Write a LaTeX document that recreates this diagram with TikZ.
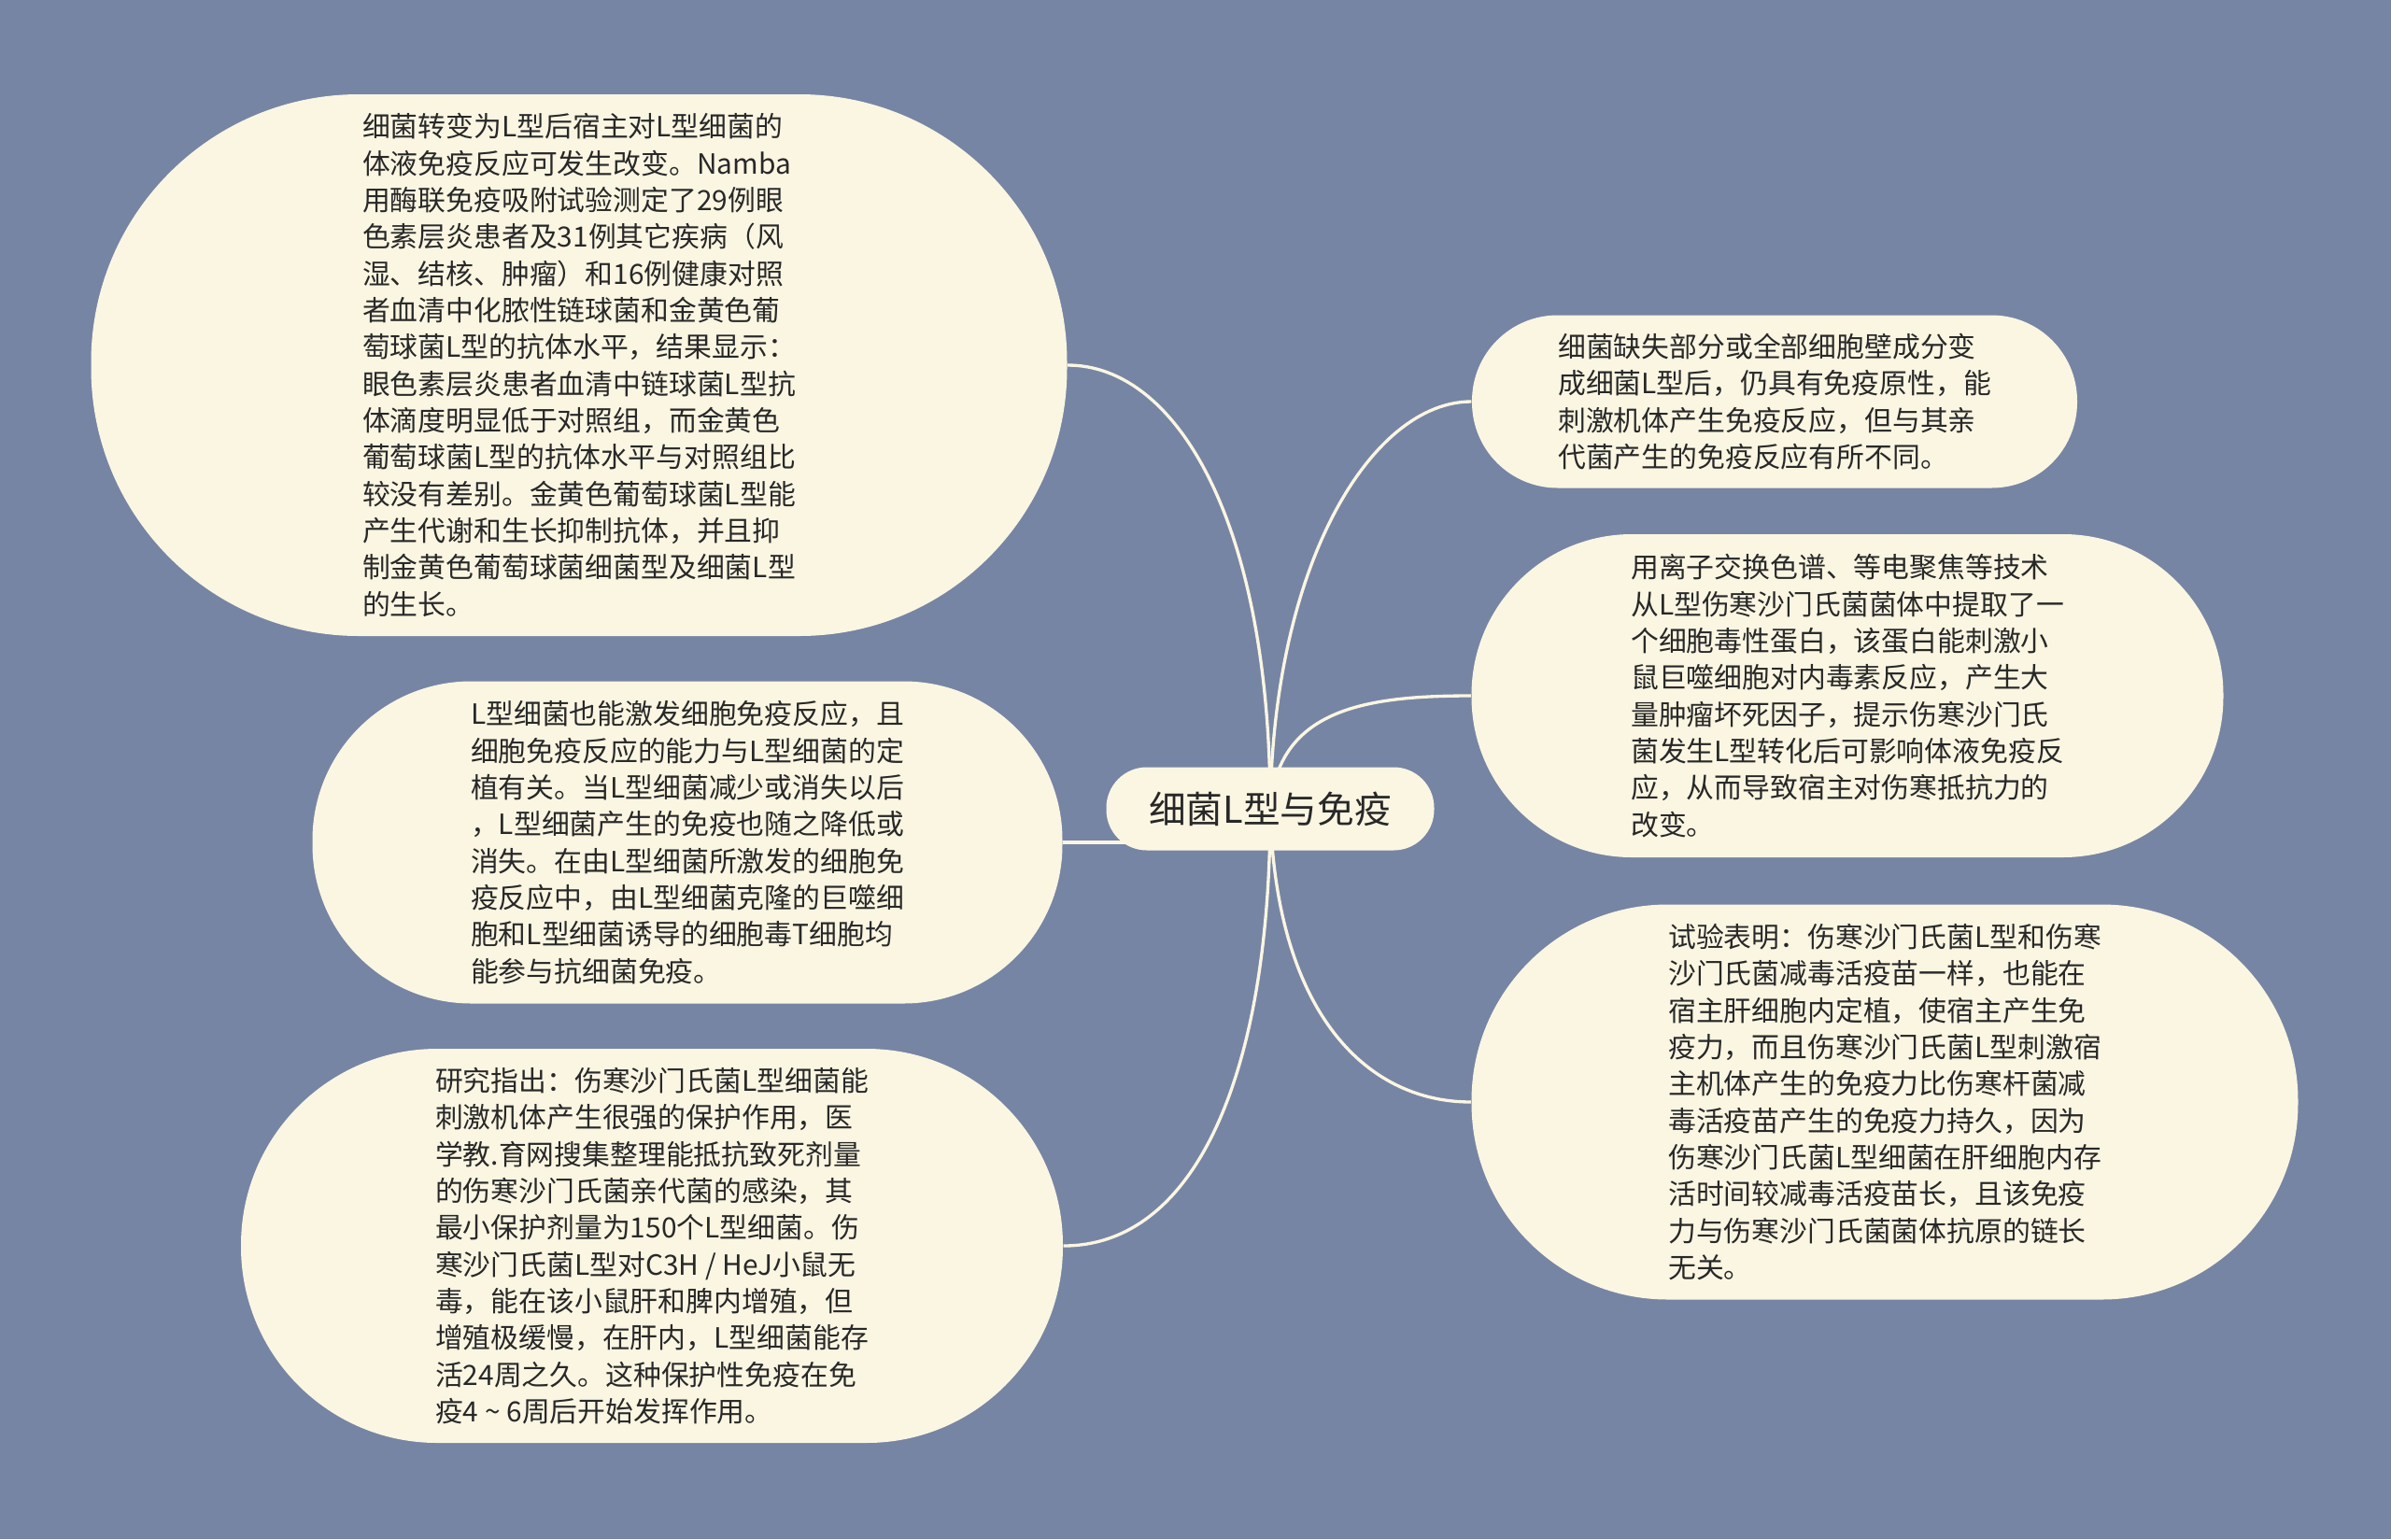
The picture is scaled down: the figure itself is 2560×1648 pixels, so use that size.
\documentclass[tikz,border=0pt]{standalone}
\usepackage{fontspec}
\newfontfamily\cjk{Noto Sans CJK SC}
\usetikzlibrary{backgrounds}
\definecolor{bgblue}{RGB}{119,133,164}
\definecolor{cream}{RGB}{250,246,226}
\definecolor{textgray}{RGB}{40,40,40}

\begin{document}
\begin{tikzpicture}[x=0.3pt, y=-0.3pt,
  bubble/.style={fill=cream, text=textgray, align=left, inner sep=0pt,
    font=\cjk\fontsize{8.95pt}{11.8pt}\selectfont},
  link/.style={draw=cream, line width=1pt}]
\useasboundingbox (0,0) rectangle (2560,1648);

\node[bubble, align=center, rounded corners=13pt, minimum width=105.3pt, minimum height=26.7pt,
  font=\cjk\fontsize{11.9pt}{14pt}\selectfont] (topic) at (1360,866) {细菌L型与免疫};

\node[bubble, rounded corners=86pt, minimum width=313.5pt, minimum height=174pt] (humoral) at (620,391) {细菌转变为L型后宿主对L型细菌的\\体液免疫反应可发生改变。Namba\\用酶联免疫吸附试验测定了29例眼\\色素层炎患者及31例其它疾病（风\\湿、结核、肿瘤）和16例健康对照\\者血清中化脓性链球菌和金黄色葡\\萄球菌L型的抗体水平，结果显示：\\眼色素层炎患者血清中链球菌L型抗\\体滴度明显低于对照组，而金黄色\\葡萄球菌L型的抗体水平与对照组比\\较没有差别。金黄色葡萄球菌L型能\\产生代谢和生长抑制抗体，并且抑\\制金黄色葡萄球菌细菌型及细菌L型\\的生长。};
\node[bubble, rounded corners=51pt, minimum width=240.9pt, minimum height=103.5pt] (cellular) at (736,902) {L型细菌也能激发细胞免疫反应，且\\细胞免疫反应的能力与L型细菌的定\\植有关。当L型细菌减少或消失以后\\，L型细菌产生的免疫也随之降低或\\消失。在由L型细菌所激发的细胞免\\疫反应中，由L型细菌克隆的巨噬细\\胞和L型细菌诱导的细胞毒T细胞均\\能参与抗细菌免疫。};
\node[bubble, rounded corners=63pt, minimum width=264pt, minimum height=126.6pt] (protect) at (698,1334) {研究指出：伤寒沙门氏菌L型细菌能\\刺激机体产生很强的保护作用，医\\学教.育网搜集整理能抵抗致死剂量\\的伤寒沙门氏菌亲代菌的感染，其\\最小保护剂量为150个L型细菌。伤\\寒沙门氏菌L型对C3H / HeJ小鼠无\\毒，能在该小鼠肝和脾内增殖，但\\增殖极缓慢，在肝内，L型细菌能存\\活24周之久。这种保护性免疫在免\\疫4 \textasciitilde\ 6周后开始发挥作用。};
\node[bubble, rounded corners=27.5pt, minimum width=194.4pt, minimum height=55.5pt] (antigen) at (1900,430) {细菌缺失部分或全部细胞壁成分变\\成细菌L型后，仍具有免疫原性，能\\刺激机体产生免疫反应，但与其亲\\代菌产生的免疫反应有所不同。};
\node[bubble, rounded corners=51.5pt, minimum width=241.5pt, minimum height=103.8pt] (toxin) at (1978,745) {用离子交换色谱、等电聚焦等技术\\从L型伤寒沙门氏菌菌体中提取了一\\个细胞毒性蛋白，该蛋白能刺激小\\鼠巨噬细胞对内毒素反应，产生大\\量肿瘤坏死因子，提示伤寒沙门氏\\菌发生L型转化后可影响体液免疫反\\应，从而导致宿主对伤寒抵抗力的\\改变。};
\node[bubble, rounded corners=63pt, minimum width=265.5pt, minimum height=126.9pt] (vaccine) at (2018,1180) {试验表明：伤寒沙门氏菌L型和伤寒\\沙门氏菌减毒活疫苗一样，也能在\\宿主肝细胞内定植，使宿主产生免\\疫力，而且伤寒沙门氏菌L型刺激宿\\主机体产生的免疫力比伤寒杆菌减\\毒活疫苗产生的免疫力持久，因为\\伤寒沙门氏菌L型细菌在肝细胞内存\\活时间较减毒活疫苗长，且该免疫\\力与伤寒沙门氏菌菌体抗原的链长\\无关。};

\begin{scope}[on background layer]
\fill[bgblue] (0,0) rectangle (2560,1648);
\draw[link] (topic.center) .. controls (1360,560) and (1260,391) .. (humoral.east);
\draw[link] (cellular.east) -- (topic.center |- cellular.east);
\draw[link] (topic.center) .. controls (1360,1150) and (1280,1334) .. (protect.east);
\draw[link] (topic.center) .. controls (1363,600) and (1470,430) .. (antigen.west);
\draw[link] (topic.center) .. controls (1368,760) and (1460,745) .. (toxin.west);
\draw[link] (topic.center) .. controls (1365,1080) and (1460,1180) .. (vaccine.west);
\end{scope}
\end{tikzpicture}
\end{document}
